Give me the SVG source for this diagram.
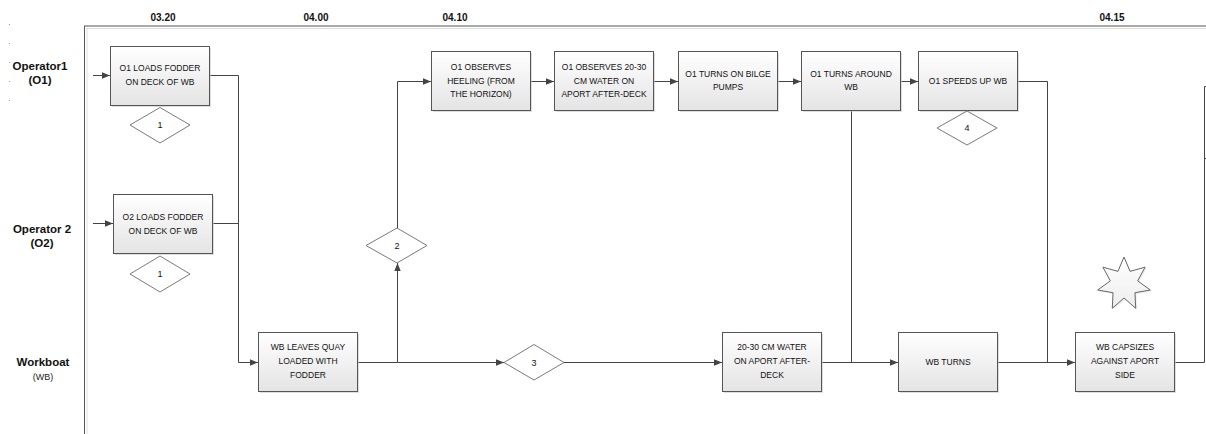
<svg xmlns="http://www.w3.org/2000/svg" width="1206" height="434" viewBox="0 0 1206 434">
<style>
.box{fill:url(#g);stroke:#555;stroke-width:1}
.sh{fill:#c8c8c8;opacity:0.6}
.dia{fill:#fff;stroke:#7a7a7a;stroke-width:1}
.t{font-family:"Liberation Sans",Arial,sans-serif;font-size:8.5px;fill:#111;text-anchor:middle}
.d{font-family:"Liberation Sans",Arial,sans-serif;font-size:9px;fill:#111;text-anchor:middle}
.h{font-family:"Liberation Sans",Arial,sans-serif;font-size:10px;font-weight:bold;fill:#111;text-anchor:middle}
.l{font-family:"Liberation Sans",Arial,sans-serif;font-size:11.5px;font-weight:bold;fill:#111;text-anchor:middle}
.ls{font-family:"Liberation Sans",Arial,sans-serif;font-size:9px;fill:#222;text-anchor:middle}
.c{fill:none;stroke:#444;stroke-width:1}
</style>
<defs>
<linearGradient id="g" x1="0" y1="0" x2="0" y2="1">
<stop offset="0" stop-color="#ffffff"/>
<stop offset="1" stop-color="#e4e4e4"/>
</linearGradient>
<linearGradient id="gs" x1="0" y1="0" x2="0" y2="1">
<stop offset="0" stop-color="#ffffff"/>
<stop offset="1" stop-color="#ededed"/>
</linearGradient>
<marker id="a" markerWidth="8" markerHeight="8" refX="8" refY="4" orient="auto" markerUnits="userSpaceOnUse">
<path d="M0,0.8 L8,4 L0,7.2 Z" fill="#444"/>
</marker>
</defs>
<rect width="1206" height="434" fill="#fff"/>

<g id="frame">
<line x1="84" y1="26" x2="1206" y2="26" stroke="#555" stroke-width="1"/>
<line x1="86" y1="28.5" x2="1206" y2="28.5" stroke="#ddd" stroke-width="1"/>
<line x1="84.5" y1="26" x2="84.5" y2="434" stroke="#555" stroke-width="1"/>
<line x1="87" y1="28" x2="87" y2="434" stroke="#e2e2e2" stroke-width="1"/>
<line x1="9.5" y1="24" x2="9.5" y2="107" stroke="#999" stroke-width="1" stroke-dasharray="1,18"/>
</g>

<g id="headers">
<text class="h" x="163" y="21">03.20</text>
<text class="h" x="316" y="21">04.00</text>
<text class="h" x="455" y="21">04.10</text>
<text class="h" x="1112" y="21">04.15</text>
</g>

<g id="lanes">
<text class="l" x="40" y="70">Operator1</text>
<text class="l" x="40" y="84">(O1)</text>
<text class="l" x="42" y="233">Operator 2</text>
<text class="l" x="42" y="247">(O2)</text>
<text class="l" x="43" y="366">Workboat</text>
<text class="ls" x="43" y="380">(WB)</text>
</g>

<g id="connectors">
<line class="c" x1="93" y1="75.5" x2="110" y2="75.5" marker-end="url(#a)"/>
<line class="c" x1="93" y1="223.5" x2="113" y2="223.5" marker-end="url(#a)"/>
<polyline class="c" points="210,75.5 238.5,75.5 238.5,362.5 258,362.5" marker-end="url(#a)"/>
<line class="c" x1="212" y1="223.5" x2="238.5" y2="223.5"/>
<polyline class="c" points="357,362.5 397.5,362.5 397.5,263" marker-end="url(#a)"/>
<polyline class="c" points="397.5,228 397.5,81.5 431,81.5" marker-end="url(#a)"/>
<line class="c" x1="530" y1="81.5" x2="554" y2="81.5" marker-end="url(#a)"/>
<line class="c" x1="654" y1="81.5" x2="678" y2="81.5" marker-end="url(#a)"/>
<line class="c" x1="777" y1="81.5" x2="801" y2="81.5" marker-end="url(#a)"/>
<line class="c" x1="900" y1="81.5" x2="918" y2="81.5" marker-end="url(#a)"/>
<polyline class="c" points="1017,81.5 1047.5,81.5 1047.5,362.5"/>
<line class="c" x1="851.5" y1="111" x2="851.5" y2="362.5"/>
<line class="c" x1="397.5" y1="362.5" x2="504" y2="362.5" marker-end="url(#a)"/>
<line class="c" x1="564" y1="362.5" x2="722" y2="362.5" marker-end="url(#a)"/>
<line class="c" x1="822" y1="362.5" x2="898" y2="362.5" marker-end="url(#a)"/>
<line class="c" x1="997" y1="362.5" x2="1075" y2="362.5" marker-end="url(#a)"/>
<polyline class="c" points="1174,362.5 1204.5,362.5 1204.5,86.5 1206,86.5"/>
<line class="c" x1="1204.5" y1="158.5" x2="1206" y2="158.5"/>
</g>

<g id="n1">
<rect class="sh" x="112" y="48" width="99" height="59"/>
<rect class="box" x="110.5" y="46.5" width="99" height="59"/>
<text class="t" x="160" y="71">O1 LOADS FODDER</text>
<text class="t" x="160" y="85">ON DECK OF WB</text>
</g>
<g id="d1a">
<polygon class="dia" points="160,107.5 190,125 160,143 130,125"/>
<text class="d" x="160" y="128">1</text>
</g>

<g id="n2">
<rect class="sh" x="115" y="196" width="99" height="59"/>
<rect class="box" x="113.5" y="194.5" width="99" height="59"/>
<text class="t" x="163" y="220">O2 LOADS FODDER</text>
<text class="t" x="163" y="234">ON DECK OF WB</text>
</g>
<g id="d1b">
<polygon class="dia" points="160,256 190,274 160,292 130,274"/>
<text class="d" x="160" y="277">1</text>
</g>

<g id="n3">
<rect class="sh" x="260" y="334" width="99" height="59"/>
<rect class="box" x="258.5" y="332.5" width="99" height="59"/>
<text class="t" x="308" y="350">WB LEAVES QUAY</text>
<text class="t" x="308" y="364">LOADED WITH</text>
<text class="t" x="308" y="378">FODDER</text>
</g>

<g id="d2">
<polygon class="dia" points="397,228 427,245.5 397,263 366,245.5"/>
<text class="d" x="397" y="248.5">2</text>
</g>

<g id="d3">
<polygon class="dia" points="534,344.5 564,362.5 534,380 504,362.5"/>
<text class="d" x="534" y="365.5">3</text>
</g>

<g id="n4">
<rect class="sh" x="433" y="53" width="99" height="59"/>
<rect class="box" x="431.5" y="51.5" width="99" height="59"/>
<text class="t" x="481" y="70">O1  OBSERVES</text>
<text class="t" x="481" y="84">HEELING (FROM</text>
<text class="t" x="481" y="97">THE HORIZON)</text>
</g>

<g id="n5">
<rect class="sh" x="556" y="53" width="99" height="59"/>
<rect class="box" x="554.5" y="51.5" width="99" height="59"/>
<text class="t" x="604" y="70">O1 OBSERVES 20-30</text>
<text class="t" x="604" y="84">CM WATER ON</text>
<text class="t" x="604" y="97">APORT AFTER-DECK</text>
</g>

<g id="n6">
<rect class="sh" x="680" y="53" width="99" height="59"/>
<rect class="box" x="678.5" y="51.5" width="99" height="59"/>
<text class="t" x="728" y="77">O1 TURNS  ON BILGE</text>
<text class="t" x="728" y="90">PUMPS</text>
</g>

<g id="n7">
<rect class="sh" x="803" y="53" width="99" height="59"/>
<rect class="box" x="801.5" y="51.5" width="99" height="59"/>
<text class="t" x="851" y="77">O1 TURNS AROUND</text>
<text class="t" x="851" y="90">WB</text>
</g>

<g id="n8">
<rect class="sh" x="920" y="53" width="99" height="59"/>
<rect class="box" x="918.5" y="51.5" width="99" height="59"/>
<text class="t" x="968" y="84">O1 SPEEDS UP WB</text>
</g>
<g id="d4">
<polygon class="dia" points="967,111 997,128 967,145 937,128"/>
<text class="d" x="967" y="131">4</text>
</g>

<g id="n9">
<rect class="sh" x="724" y="334" width="99" height="59"/>
<rect class="box" x="722.5" y="332.5" width="99" height="59"/>
<text class="t" x="772" y="350">20-30 CM WATER</text>
<text class="t" x="772" y="364">ON APORT AFTER-</text>
<text class="t" x="772" y="378">DECK</text>
</g>

<g id="n10">
<rect class="sh" x="900" y="334" width="99" height="59"/>
<rect class="box" x="898.5" y="332.5" width="99" height="59"/>
<text class="t" x="948" y="365">WB TURNS</text>
</g>

<g id="n11">
<rect class="sh" x="1077" y="334" width="99" height="59"/>
<rect class="box" x="1075.5" y="332.5" width="99" height="59"/>
<text class="t" x="1125" y="350">WB CAPSIZES</text>
<text class="t" x="1125" y="364">AGAINST APORT</text>
<text class="t" x="1125" y="378">SIDE</text>
</g>

<g id="star">
<polygon points="1125.5,258.5 1131.57,272.89 1146.61,268.67 1139.15,282.39 1151.82,291.51 1136.45,294.23 1137.22,309.83 1125.5,299.5 1113.78,309.83 1114.55,294.23 1099.18,291.51 1111.85,282.39 1104.39,268.67 1119.43,272.89" fill="#ddd" opacity="0.5"/>
<polygon points="1124,257 1130.07,271.39 1145.11,267.17 1137.65,280.89 1150.32,290.01 1134.95,292.73 1135.72,308.33 1124,298 1112.28,308.33 1113.05,292.73 1097.68,290.01 1110.35,280.89 1102.89,267.17 1117.93,271.39" fill="url(#gs)" stroke="#666" stroke-width="1"/>
</g>
</svg>
